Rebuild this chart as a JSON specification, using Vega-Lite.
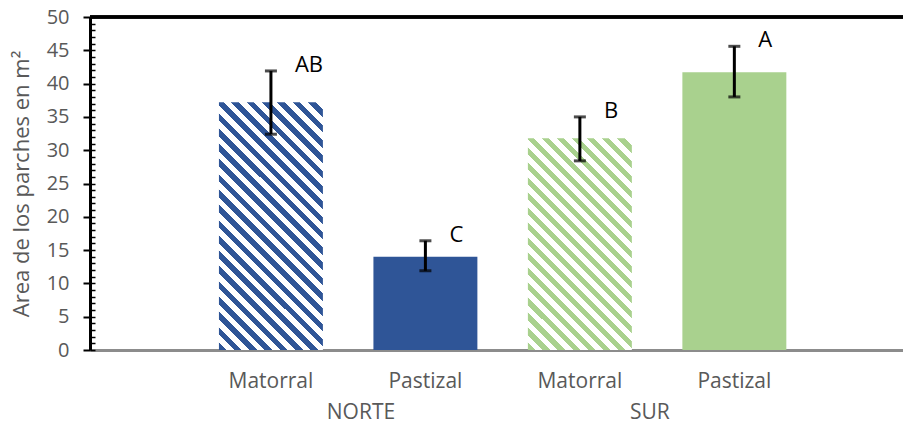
{
  "$schema": "https://vega.github.io/schema/vega-lite/v6.json",
  "width": 813,
  "height": 333,
  "autosize": {"type": "none"},
  "padding": {"left": 90, "top": 17, "right": 0, "bottom": 78},
  "config": {"font": "Open Sans", "view": {"stroke": null}},
  "data": {
    "values": [
      {"zona": "NORTE", "tipo": "Matorral", "clave": "NORTE-Matorral", "media": 37.2, "inf": 32.4, "sup": 41.9, "letra": "AB"},
      {"zona": "NORTE", "tipo": "Pastizal", "clave": "NORTE-Pastizal", "media": 14.0, "inf": 11.9, "sup": 16.4, "letra": "C"},
      {"zona": "SUR", "tipo": "Matorral", "clave": "SUR-Matorral", "media": 31.8, "inf": 28.4, "sup": 35.0, "letra": "B"},
      {"zona": "SUR", "tipo": "Pastizal", "clave": "SUR-Pastizal", "media": 41.7, "inf": 38.0, "sup": 45.6, "letra": "A"}
    ]
  },
  "layer": [
    {
      "encoding": {
        "x": {
          "field": "clave",
          "type": "nominal",
          "scale": {
            "domain": ["NORTE-Matorral", "NORTE-Pastizal", "SUR-Matorral", "SUR-Pastizal"],
            "paddingInner": 0.327,
            "paddingOuter": 0.795,
            "align": 0.525
          },
          "axis": {
            "title": null,
            "labelExpr": "split(datum.label, '-')[1]",
            "labelAngle": 0,
            "labelFontSize": 21,
            "labelColor": "#595959",
            "labelPadding": 20,
            "ticks": false,
            "domain": true,
            "domainColor": "#8c8c8c",
            "domainWidth": 3
          }
        },
        "y": {
          "field": "media",
          "type": "quantitative",
          "scale": {"domain": [0, 50], "nice": false},
          "axis": {
            "title": "Area de los parches en m²",
            "titleFontSize": 22,
            "titleFontWeight": "normal",
            "titleColor": "#595959",
            "titlePadding": 13,
            "values": [0, 5, 10, 15, 20, 25, 30, 35, 40, 45, 50],
            "labelFontSize": 20,
            "labelColor": "#595959",
            "labelPadding": 14,
            "tickSize": 7,
            "tickWidth": 2,
            "tickColor": "black",
            "domainColor": "black",
            "domainWidth": 3,
            "grid": false
          }
        }
      },
      "layer": [
        {
          "transform": [{"filter": "datum.tipo == 'Pastizal'"}],
          "mark": {"type": "bar"},
          "encoding": {
            "color": {
              "field": "zona",
              "type": "nominal",
              "scale": {"domain": ["NORTE", "SUR"], "range": ["#2F5597", "#A9D18E"]},
              "legend": null
            }
          }
        },
        {
          "transform": [{"filter": "datum.clave == 'NORTE-Matorral'"}],
          "mark": {
            "type": "bar",
            "fill": {
              "gradient": "linear",
              "x1": 0, "y1": 1, "x2": 0.506, "y2": -0.207,
              "stops": [
                {"offset": 0, "color": "#2F5597"}, {"offset": 0.0217, "color": "#2F5597"}, {"offset": 0.0217, "color": "#ffffff"}, {"offset": 0.0435, "color": "#ffffff"},
                {"offset": 0.0435, "color": "#2F5597"}, {"offset": 0.0652, "color": "#2F5597"}, {"offset": 0.0652, "color": "#ffffff"}, {"offset": 0.0870, "color": "#ffffff"},
                {"offset": 0.0870, "color": "#2F5597"}, {"offset": 0.1087, "color": "#2F5597"}, {"offset": 0.1087, "color": "#ffffff"}, {"offset": 0.1304, "color": "#ffffff"},
                {"offset": 0.1304, "color": "#2F5597"}, {"offset": 0.1522, "color": "#2F5597"}, {"offset": 0.1522, "color": "#ffffff"}, {"offset": 0.1739, "color": "#ffffff"},
                {"offset": 0.1739, "color": "#2F5597"}, {"offset": 0.1957, "color": "#2F5597"}, {"offset": 0.1957, "color": "#ffffff"}, {"offset": 0.2174, "color": "#ffffff"},
                {"offset": 0.2174, "color": "#2F5597"}, {"offset": 0.2391, "color": "#2F5597"}, {"offset": 0.2391, "color": "#ffffff"}, {"offset": 0.2609, "color": "#ffffff"},
                {"offset": 0.2609, "color": "#2F5597"}, {"offset": 0.2826, "color": "#2F5597"}, {"offset": 0.2826, "color": "#ffffff"}, {"offset": 0.3043, "color": "#ffffff"},
                {"offset": 0.3043, "color": "#2F5597"}, {"offset": 0.3261, "color": "#2F5597"}, {"offset": 0.3261, "color": "#ffffff"}, {"offset": 0.3478, "color": "#ffffff"},
                {"offset": 0.3478, "color": "#2F5597"}, {"offset": 0.3696, "color": "#2F5597"}, {"offset": 0.3696, "color": "#ffffff"}, {"offset": 0.3913, "color": "#ffffff"},
                {"offset": 0.3913, "color": "#2F5597"}, {"offset": 0.4130, "color": "#2F5597"}, {"offset": 0.4130, "color": "#ffffff"}, {"offset": 0.4348, "color": "#ffffff"},
                {"offset": 0.4348, "color": "#2F5597"}, {"offset": 0.4565, "color": "#2F5597"}, {"offset": 0.4565, "color": "#ffffff"}, {"offset": 0.4783, "color": "#ffffff"},
                {"offset": 0.4783, "color": "#2F5597"}, {"offset": 0.5000, "color": "#2F5597"}, {"offset": 0.5000, "color": "#ffffff"}, {"offset": 0.5217, "color": "#ffffff"},
                {"offset": 0.5217, "color": "#2F5597"}, {"offset": 0.5435, "color": "#2F5597"}, {"offset": 0.5435, "color": "#ffffff"}, {"offset": 0.5652, "color": "#ffffff"},
                {"offset": 0.5652, "color": "#2F5597"}, {"offset": 0.5870, "color": "#2F5597"}, {"offset": 0.5870, "color": "#ffffff"}, {"offset": 0.6087, "color": "#ffffff"},
                {"offset": 0.6087, "color": "#2F5597"}, {"offset": 0.6304, "color": "#2F5597"}, {"offset": 0.6304, "color": "#ffffff"}, {"offset": 0.6522, "color": "#ffffff"},
                {"offset": 0.6522, "color": "#2F5597"}, {"offset": 0.6739, "color": "#2F5597"}, {"offset": 0.6739, "color": "#ffffff"}, {"offset": 0.6957, "color": "#ffffff"},
                {"offset": 0.6957, "color": "#2F5597"}, {"offset": 0.7174, "color": "#2F5597"}, {"offset": 0.7174, "color": "#ffffff"}, {"offset": 0.7391, "color": "#ffffff"},
                {"offset": 0.7391, "color": "#2F5597"}, {"offset": 0.7609, "color": "#2F5597"}, {"offset": 0.7609, "color": "#ffffff"}, {"offset": 0.7826, "color": "#ffffff"},
                {"offset": 0.7826, "color": "#2F5597"}, {"offset": 0.8043, "color": "#2F5597"}, {"offset": 0.8043, "color": "#ffffff"}, {"offset": 0.8261, "color": "#ffffff"},
                {"offset": 0.8261, "color": "#2F5597"}, {"offset": 0.8478, "color": "#2F5597"}, {"offset": 0.8478, "color": "#ffffff"}, {"offset": 0.8696, "color": "#ffffff"},
                {"offset": 0.8696, "color": "#2F5597"}, {"offset": 0.8913, "color": "#2F5597"}, {"offset": 0.8913, "color": "#ffffff"}, {"offset": 0.9130, "color": "#ffffff"},
                {"offset": 0.9130, "color": "#2F5597"}, {"offset": 0.9348, "color": "#2F5597"}, {"offset": 0.9348, "color": "#ffffff"}, {"offset": 0.9565, "color": "#ffffff"},
                {"offset": 0.9565, "color": "#2F5597"}, {"offset": 0.9783, "color": "#2F5597"}, {"offset": 0.9783, "color": "#ffffff"}, {"offset": 1, "color": "#ffffff"}
              ]
            }
          }
        },
        {
          "transform": [{"filter": "datum.clave == 'SUR-Matorral'"}],
          "mark": {
            "type": "bar",
            "fill": {
              "gradient": "linear",
              "x1": 0, "y1": 1, "x2": 0.589, "y2": -0.201,
              "stops": [
                {"offset": 0, "color": "#A9D18E"}, {"offset": 0.0238, "color": "#A9D18E"}, {"offset": 0.0238, "color": "#ffffff"}, {"offset": 0.0476, "color": "#ffffff"},
                {"offset": 0.0476, "color": "#A9D18E"}, {"offset": 0.0714, "color": "#A9D18E"}, {"offset": 0.0714, "color": "#ffffff"}, {"offset": 0.0952, "color": "#ffffff"},
                {"offset": 0.0952, "color": "#A9D18E"}, {"offset": 0.1190, "color": "#A9D18E"}, {"offset": 0.1190, "color": "#ffffff"}, {"offset": 0.1429, "color": "#ffffff"},
                {"offset": 0.1429, "color": "#A9D18E"}, {"offset": 0.1667, "color": "#A9D18E"}, {"offset": 0.1667, "color": "#ffffff"}, {"offset": 0.1905, "color": "#ffffff"},
                {"offset": 0.1905, "color": "#A9D18E"}, {"offset": 0.2143, "color": "#A9D18E"}, {"offset": 0.2143, "color": "#ffffff"}, {"offset": 0.2381, "color": "#ffffff"},
                {"offset": 0.2381, "color": "#A9D18E"}, {"offset": 0.2619, "color": "#A9D18E"}, {"offset": 0.2619, "color": "#ffffff"}, {"offset": 0.2857, "color": "#ffffff"},
                {"offset": 0.2857, "color": "#A9D18E"}, {"offset": 0.3095, "color": "#A9D18E"}, {"offset": 0.3095, "color": "#ffffff"}, {"offset": 0.3333, "color": "#ffffff"},
                {"offset": 0.3333, "color": "#A9D18E"}, {"offset": 0.3571, "color": "#A9D18E"}, {"offset": 0.3571, "color": "#ffffff"}, {"offset": 0.3810, "color": "#ffffff"},
                {"offset": 0.3810, "color": "#A9D18E"}, {"offset": 0.4048, "color": "#A9D18E"}, {"offset": 0.4048, "color": "#ffffff"}, {"offset": 0.4286, "color": "#ffffff"},
                {"offset": 0.4286, "color": "#A9D18E"}, {"offset": 0.4524, "color": "#A9D18E"}, {"offset": 0.4524, "color": "#ffffff"}, {"offset": 0.4762, "color": "#ffffff"},
                {"offset": 0.4762, "color": "#A9D18E"}, {"offset": 0.5000, "color": "#A9D18E"}, {"offset": 0.5000, "color": "#ffffff"}, {"offset": 0.5238, "color": "#ffffff"},
                {"offset": 0.5238, "color": "#A9D18E"}, {"offset": 0.5476, "color": "#A9D18E"}, {"offset": 0.5476, "color": "#ffffff"}, {"offset": 0.5714, "color": "#ffffff"},
                {"offset": 0.5714, "color": "#A9D18E"}, {"offset": 0.5952, "color": "#A9D18E"}, {"offset": 0.5952, "color": "#ffffff"}, {"offset": 0.6190, "color": "#ffffff"},
                {"offset": 0.6190, "color": "#A9D18E"}, {"offset": 0.6429, "color": "#A9D18E"}, {"offset": 0.6429, "color": "#ffffff"}, {"offset": 0.6667, "color": "#ffffff"},
                {"offset": 0.6667, "color": "#A9D18E"}, {"offset": 0.6905, "color": "#A9D18E"}, {"offset": 0.6905, "color": "#ffffff"}, {"offset": 0.7143, "color": "#ffffff"},
                {"offset": 0.7143, "color": "#A9D18E"}, {"offset": 0.7381, "color": "#A9D18E"}, {"offset": 0.7381, "color": "#ffffff"}, {"offset": 0.7619, "color": "#ffffff"},
                {"offset": 0.7619, "color": "#A9D18E"}, {"offset": 0.7857, "color": "#A9D18E"}, {"offset": 0.7857, "color": "#ffffff"}, {"offset": 0.8095, "color": "#ffffff"},
                {"offset": 0.8095, "color": "#A9D18E"}, {"offset": 0.8333, "color": "#A9D18E"}, {"offset": 0.8333, "color": "#ffffff"}, {"offset": 0.8571, "color": "#ffffff"},
                {"offset": 0.8571, "color": "#A9D18E"}, {"offset": 0.8810, "color": "#A9D18E"}, {"offset": 0.8810, "color": "#ffffff"}, {"offset": 0.9048, "color": "#ffffff"},
                {"offset": 0.9048, "color": "#A9D18E"}, {"offset": 0.9286, "color": "#A9D18E"}, {"offset": 0.9286, "color": "#ffffff"}, {"offset": 0.9524, "color": "#ffffff"},
                {"offset": 0.9524, "color": "#A9D18E"}, {"offset": 0.9762, "color": "#A9D18E"}, {"offset": 0.9762, "color": "#ffffff"}, {"offset": 1, "color": "#ffffff"}
              ]
            }
          }
        },
        {
          "mark": {
            "type": "errorbar",
            "color": "black",
            "thickness": 3,
            "ticks": {"size": 12, "thickness": 3, "color": "black"}
          },
          "encoding": {
            "y": {"field": "inf", "type": "quantitative"},
            "y2": {"field": "sup"}
          }
        },
        {
          "mark": {
            "type": "text",
            "align": "left",
            "baseline": "alphabetic",
            "dx": 24,
            "dy": 1,
            "fontSize": 22,
            "color": "black"
          },
          "encoding": {
            "y": {"field": "sup", "type": "quantitative"},
            "text": {"field": "letra"}
          }
        }
      ]
    },
    {
      "mark": {"type": "point", "opacity": 0},
      "encoding": {
        "x": {
          "field": "zona",
          "type": "nominal",
          "scale": {"type": "band", "domain": ["NORTE", "SUR"], "paddingInner": 0, "paddingOuter": 0.407, "align": 0.538},
          "axis": {
            "orient": "bottom",
            "title": null,
            "labelAngle": 0,
            "labelFontSize": 21,
            "labelColor": "#595959",
            "labelPadding": 51,
            "ticks": false,
            "domain": false
          }
        },
        "y": {
          "field": "media",
          "type": "quantitative",
          "scale": {"domain": [0, 50], "nice": false},
          "axis": {
            "orient": "left",
            "title": null,
            "tickCount": 50,
            "tickSize": -5,
            "tickWidth": 1.5,
            "tickColor": "black",
            "labels": false,
            "domain": false,
            "grid": false
          }
        }
      }
    },
    {
      "mark": {"type": "rule", "color": "black", "strokeWidth": 3},
      "encoding": {
        "y": {"datum": 50, "type": "quantitative", "scale": {"domain": [0, 50], "nice": false}, "axis": null}
      }
    }
  ],
  "resolve": {
    "scale": {"x": "independent", "y": "independent"},
    "axis": {"x": "independent", "y": "independent"}
  }
}
